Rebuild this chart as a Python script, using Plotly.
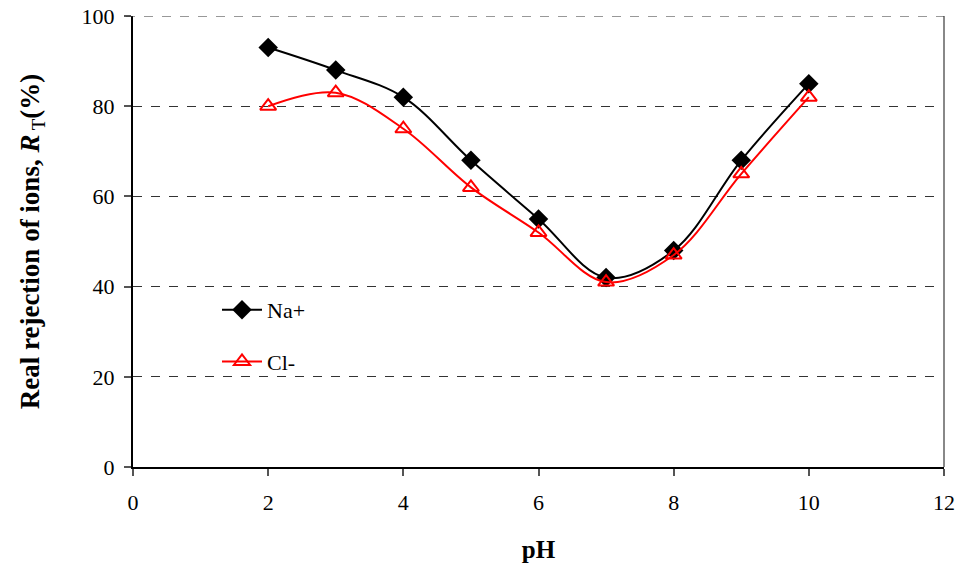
import plotly.graph_objects as go

ph = [2, 3, 4, 5, 6, 7, 8, 9, 10]
na_plus = [93, 88, 82, 68, 55, 42, 48, 68, 85]
cl_minus = [80, 83, 75, 62, 52, 41, 47, 65, 82]
x_ticks = [0, 2, 4, 6, 8, 10, 12]
y_ticks = [0, 20, 40, 60, 80, 100]

FONT = "Liberation Serif"

fig = go.Figure()
fig.add_trace(go.Scatter(
    x=ph, y=na_plus, name="Na+", mode="lines+markers", line_shape="spline",
    line=dict(color="black", width=2),
    marker=dict(symbol="diamond", size=15, color="black"),
    legendgroup="a",
))
fig.add_trace(go.Scatter(
    x=ph, y=cl_minus, name="Cl-", mode="lines+markers", line_shape="spline",
    line=dict(color="#ff0000", width=2),
    marker=dict(symbol="triangle-up-open", size=14, color="#ff0000", line=dict(width=2, color="#ff0000")),
    legendgroup="b",
))

fig.update_layout(
    width=958, height=565,
    margin=dict(l=133, r=14, t=16, b=98, autoexpand=False),
    paper_bgcolor="white", plot_bgcolor="white",
    font=dict(family=FONT, size=22, color="black"),
    showlegend=True,
    legend=dict(
        x=(217 - 133) / 811, y=(467 - 289) / 451, xanchor="left", yanchor="top",
        bgcolor="rgba(0,0,0,0)", borderwidth=0,
        font=dict(family=FONT, size=22, color="black"),
        tracegroupgap=20, itemwidth=40,
    ),
    xaxis=dict(
        range=[0, 12], tickvals=x_ticks, showgrid=False, zeroline=False,
        showline=True, linecolor="black", linewidth=2, automargin=False,
        ticks="outside", ticklen=7, tickcolor="#555", tickwidth=2,
        ticklabelstandoff=8,
        title=dict(text="<b>pH</b>", font=dict(family=FONT, size=25), standoff=26),
    ),
    yaxis=dict(
        range=[0, 100], tickvals=y_ticks, zeroline=False, automargin=False,
        showgrid=True, gridcolor="#333", griddash="dash", gridwidth=1,
        showline=True, linecolor="black", linewidth=2,
        ticks="outside", ticklen=7, tickcolor="#555", tickwidth=2,
        ticklabelstandoff=5,
        title=dict(text="<b>Real rejection of ions, <i>R</i></b><sub> T</sub><b>(%)</b>",
                   font=dict(family=FONT, size=27), standoff=34),
    ),
    shapes=[
        dict(type="rect", xref="paper", yref="y", layer="between",
             x0=(213 - 133) / 811, x1=(336 - 133) / 811, y0=18, y1=42,
             fillcolor="white", line=dict(width=0)),
        dict(type="line", xref="paper", yref="paper", x0=1, x1=1, y0=0, y1=1,
             line=dict(color="#888", width=2)),
        dict(type="line", xref="paper", yref="y", x0=-7 / 811, x1=1, y0=100, y1=100,
             line=dict(color="#333", width=1, dash="dash")),
    ],
)

fig.write_html("out.html")
